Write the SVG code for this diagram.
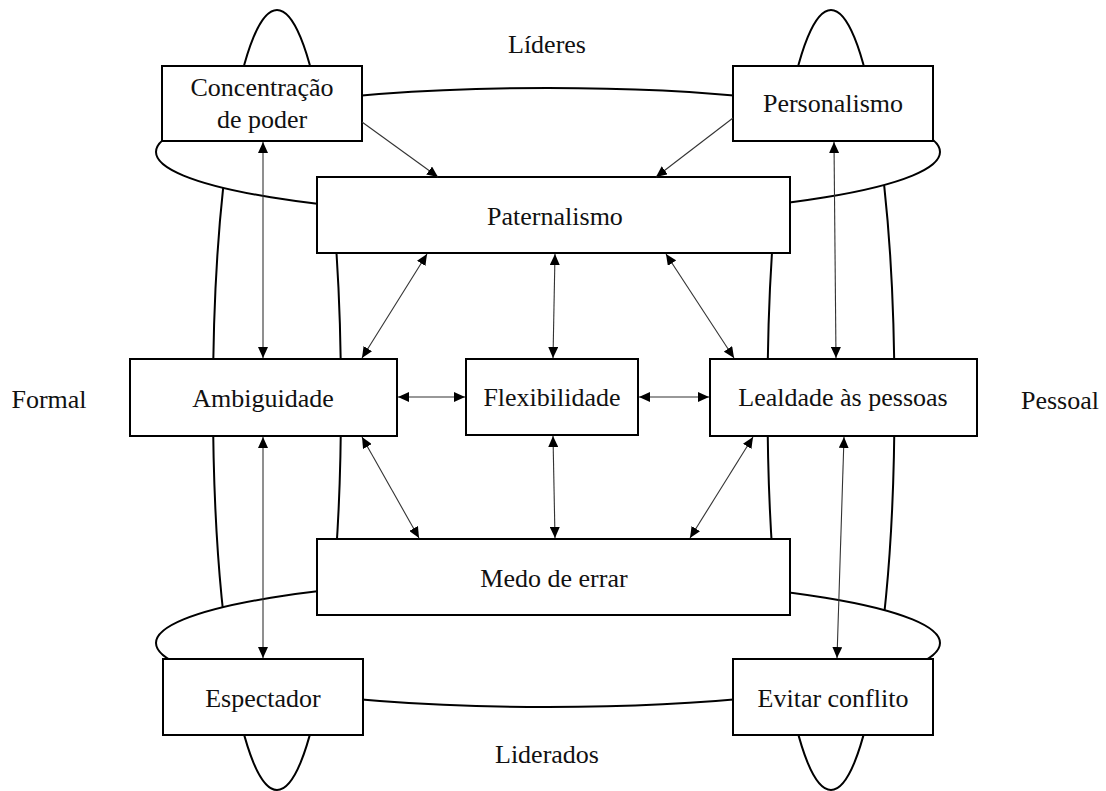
<svg xmlns="http://www.w3.org/2000/svg" width="1106" height="791" viewBox="0 0 1106 791">
<style>
.loop{fill:none;stroke:#000;stroke-width:2}
.band{fill:#fff;stroke:#000;stroke-width:2}
.box{fill:#fff;stroke:#000;stroke-width:2}
.t{font-family:"Liberation Serif","Times New Roman",serif;font-size:26px;fill:#111;text-anchor:middle}
.c{stroke:#333;stroke-width:1.1;fill:none}
.bi{marker-start:url(#ah);marker-end:url(#ah)}
.uni{marker-end:url(#ah)}
</style>
<defs>
<marker id="ah" markerUnits="userSpaceOnUse" viewBox="0 0 11 10" markerWidth="11" markerHeight="10" refX="11" refY="5" orient="auto-start-reverse">
<path d="M0,0 L11,5 L0,10 z" fill="#000"/>
</marker>
</defs>
<g id="background-loops">
<ellipse class="loop" cx="277" cy="400" rx="64" ry="390"/>
<ellipse class="loop" cx="831" cy="400" rx="63.5" ry="390"/>
<ellipse class="band" cx="548" cy="152" rx="392" ry="64"/>
<ellipse class="band" cx="548" cy="643" rx="392" ry="64"/>
</g>
<g id="labels">
<text class="t" x="547" y="53">Líderes</text>
<text class="t" x="547" y="763">Liderados</text>
<text class="t" x="49" y="408">Formal</text>
<text class="t" x="1060" y="409">Pessoal</text>
</g>
<g id="concentracao"><rect class="box" x="162" y="66" width="200" height="75"/><text class="t" x="262" y="96">Concentração</text><text class="t" x="262" y="128">de poder</text></g>
<g id="personalismo"><rect class="box" x="733" y="66" width="200" height="75"/><text class="t" x="833" y="112">Personalismo</text></g>
<g id="paternalismo"><rect class="box" x="317" y="177" width="473" height="76"/><text class="t" x="555" y="225">Paternalismo</text></g>
<g id="ambiguidade"><rect class="box" x="130" y="359" width="267" height="77"/><text class="t" x="263" y="407">Ambiguidade</text></g>
<g id="flexibilidade"><rect class="box" x="466" y="359" width="172" height="76"/><text class="t" x="552" y="406">Flexibilidade</text></g>
<g id="lealdade"><rect class="box" x="710" y="359" width="267" height="77"/><text class="t" x="843" y="406">Lealdade às pessoas</text></g>
<g id="medo"><rect class="box" x="317" y="539" width="473" height="76"/><text class="t" x="554" y="587">Medo de errar</text></g>
<g id="espectador"><rect class="box" x="163" y="659" width="200" height="76"/><text class="t" x="263" y="707">Espectador</text></g>
<g id="evitar"><rect class="box" x="733" y="659" width="200" height="76"/><text class="t" x="833" y="707">Evitar conflito</text></g>
<g id="connectors">
<line class="c bi" x1="263" y1="142" x2="263" y2="358"/>
<line class="c bi" x1="263" y1="437" x2="263" y2="658"/>
<line class="c bi" x1="834" y1="142" x2="836" y2="358"/>
<line class="c bi" x1="844" y1="437" x2="837" y2="658"/>
<line class="c uni" x1="362" y1="122" x2="438" y2="177"/>
<line class="c uni" x1="733" y1="118" x2="656" y2="177"/>
<line class="c bi" x1="427" y1="254" x2="362" y2="358"/>
<line class="c bi" x1="555" y1="254" x2="553" y2="358"/>
<line class="c bi" x1="666" y1="254" x2="734" y2="358"/>
<line class="c bi" x1="398" y1="397" x2="465" y2="397"/>
<line class="c bi" x1="639" y1="397" x2="709" y2="397"/>
<line class="c bi" x1="362" y1="437" x2="419" y2="538"/>
<line class="c bi" x1="553" y1="436" x2="555" y2="538"/>
<line class="c bi" x1="753" y1="437" x2="690" y2="538"/>
</g>
</svg>
